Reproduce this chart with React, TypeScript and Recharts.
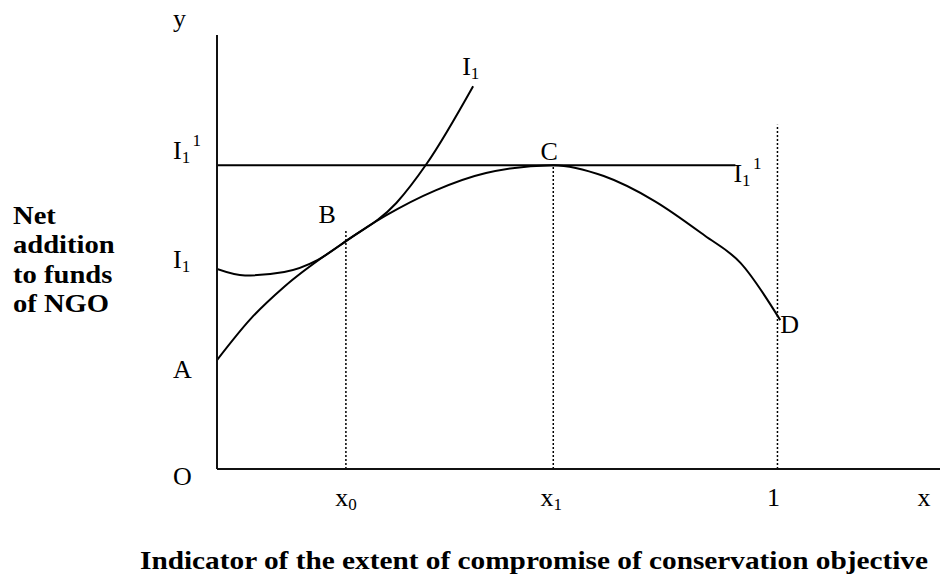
import { LineChart, Line, XAxis, YAxis, ReferenceLine, LabelList } from 'recharts'

// net addition to funds curve (A - B - C - D)
const fundsX = [0, 0.06, 0.12, 0.23, 0.3, 0.39, 0.48, 0.6, 0.69, 0.78, 0.87, 0.934, 1.005]
const fundsY = [25.1, 34.6, 42.0, 52.5, 58.3, 64.2, 68.2, 70, 67.5, 61.8, 53.8, 47.5, 34.3]
const fundsTags = ['', '', '', 'B', '', '', '', 'C', '', '', '', '', 'D']

// indifference curve I1, tangent at B
const i1X = [0, 0.05, 0.12, 0.18, 0.23, 0.32, 0.375, 0.457]
const i1Y = [46.1, 44.6, 45.4, 48.2, 52.5, 61.3, 70.5, 88.2]
const i1Tags = ['', '', '', '', '', '', '', 'I_1']

// higher indifference level I1^1, touching at C
const levelX = [0, 0.925]
const levelY = [70, 70]
const levelTags = ['', 'I_1^1']

// dotted guides from the x axis
const guideX = [0.23, 0.6, 1]
const guideTop = [55.1, 70, 79.3]

const xTickValues = [0.23, 0.6, 1, 1.273]
const xTickNames = ['x_0', 'x_1', '1', 'x']
const yTickValues = [0, 25.1, 46.1, 70]
const yTickNames = ['O', 'A', 'I_1', 'I_1^1']

const yTitle = ['Net', 'addition', 'to funds', 'of NGO']
const xTitle = 'Indicator of the extent of compromise of conservation objective'

const SERIF = "'Liberation Serif', 'Times New Roman', serif"

const fundsData = fundsX.map((x, i) => ({ x, y: fundsY[i], tag: fundsTags[i] }))
const i1Data = i1X.map((x, i) => ({ x, y: i1Y[i], tag: i1Tags[i] }))
const levelData = levelX.map((x, i) => ({ x, y: levelY[i], tag: levelTags[i] }))

function MathText({ x, y, tex, anchor = 'start' }: any) {
  const [rest, sup] = tex.split('^')
  const [base, sub] = rest.split('_')
  return (
    <text x={x} y={y} textAnchor={anchor} fontFamily={SERIF} fontSize={26} fill='#000'>
      <tspan>{base}</tspan>
      {sub && <tspan fontSize={17} dy={4}>{sub}</tspan>}
      {sup && <tspan fontSize={17} dx={3} dy={-17}>{sup}</tspan>}
    </text>
  )
}

const tagNudge: Record<string, { dx: number; dy: number; anchor: string }> = {
  B: { dx: -10, dy: -18, anchor: 'end' },
  C: { dx: -4, dy: -5, anchor: 'middle' },
  D: { dx: 0, dy: 13, anchor: 'start' },
  I_1: { dx: -11, dy: -11, anchor: 'start' },
  'I_1^1': { dx: -2, dy: 17, anchor: 'start' },
}

const renderTag = (p: any) => {
  const tag = p.value
  if (!tag) return null
  const n = tagNudge[tag]
  const x = p.x ?? p.viewBox?.x
  const y = p.y ?? p.viewBox?.y
  return <MathText key={tag} x={x + n.dx} y={y + n.dy} tex={tag} anchor={n.anchor} />
}

const yTickNudge: Record<string, number> = { O: 16, A: 18, I_1: -1, 'I_1^1': -6 }
const xTickNudge: Record<string, number> = { x_0: 0, x_1: -2, '1': -4, x: 0 }

const YTick = (p: any) => {
  const i = yTickValues.indexOf(p.payload.value)
  const name = yTickNames[i]
  return <MathText x={173} y={p.y + yTickNudge[name]} tex={name} />
}

const XTick = (p: any) => {
  const i = xTickValues.indexOf(p.payload.value)
  const name = xTickNames[i]
  return <MathText x={p.x + xTickNudge[name]} y={506} tex={name} anchor='middle' />
}

const YTitle = () => (
  <g>
    <MathText x={173} y={27} tex='y' />
    <g transform='translate(13,0) scale(1.1,1)'>
      {yTitle.map((line, i) => (
        <text key={line} x={0} y={224 + i * 29.5} fontFamily={SERIF} fontSize={26} fontWeight='bold' fill='#000'>
          {line}
        </text>
      ))}
    </g>
  </g>
)

const XTitle = () => (
  <text x={140} y={569} textLength={788} lengthAdjust='spacingAndGlyphs' fontFamily={SERIF} fontSize={26} fontWeight='bold' fill='#000'>
    {xTitle}
  </text>
)

export default function App() {
  return (
    <div style={{ position: 'absolute', left: 0, top: 0, background: '#fff' }}>
      <LineChart width={942} height={576} margin={{ top: 35, right: 2, left: 157, bottom: 77 }}>
        <XAxis
          dataKey='x'
          type='number'
          domain={[0, 1.29]}
          allowDataOverflow
          ticks={xTickValues}
          tick={<XTick />}
          tickLine={false}
          axisLine={{ stroke: '#111', strokeWidth: 2 }}
          height={30}
          label={{ content: () => <XTitle /> }}
        />
        <YAxis
          dataKey='y'
          type='number'
          domain={[0, 100]}
          allowDataOverflow
          ticks={yTickValues}
          tick={<YTick />}
          tickLine={false}
          axisLine={{ stroke: '#111', strokeWidth: 2 }}
          width={60}
          label={{ content: () => <YTitle /> }}
        />
        {guideX.map((gx, i) => (
          <ReferenceLine
            key={gx}
            segment={[{ x: gx, y: 0 }, { x: gx, y: guideTop[i] }]}
            stroke='#000'
            strokeWidth={1.5}
            strokeDasharray='2 2'
          />
        ))}
        <Line data={levelData} dataKey='y' type='linear' stroke='#000' strokeWidth={2} dot={false} isAnimationActive={false}>
          <LabelList dataKey='tag' content={renderTag} />
        </Line>
        <Line data={i1Data} dataKey='y' type='monotone' stroke='#000' strokeWidth={2} dot={false} isAnimationActive={false}>
          <LabelList dataKey='tag' content={renderTag} />
        </Line>
        <Line data={fundsData} dataKey='y' type='monotone' stroke='#000' strokeWidth={2} dot={false} isAnimationActive={false}>
          <LabelList dataKey='tag' content={renderTag} />
        </Line>
      </LineChart>
    </div>
  )
}
